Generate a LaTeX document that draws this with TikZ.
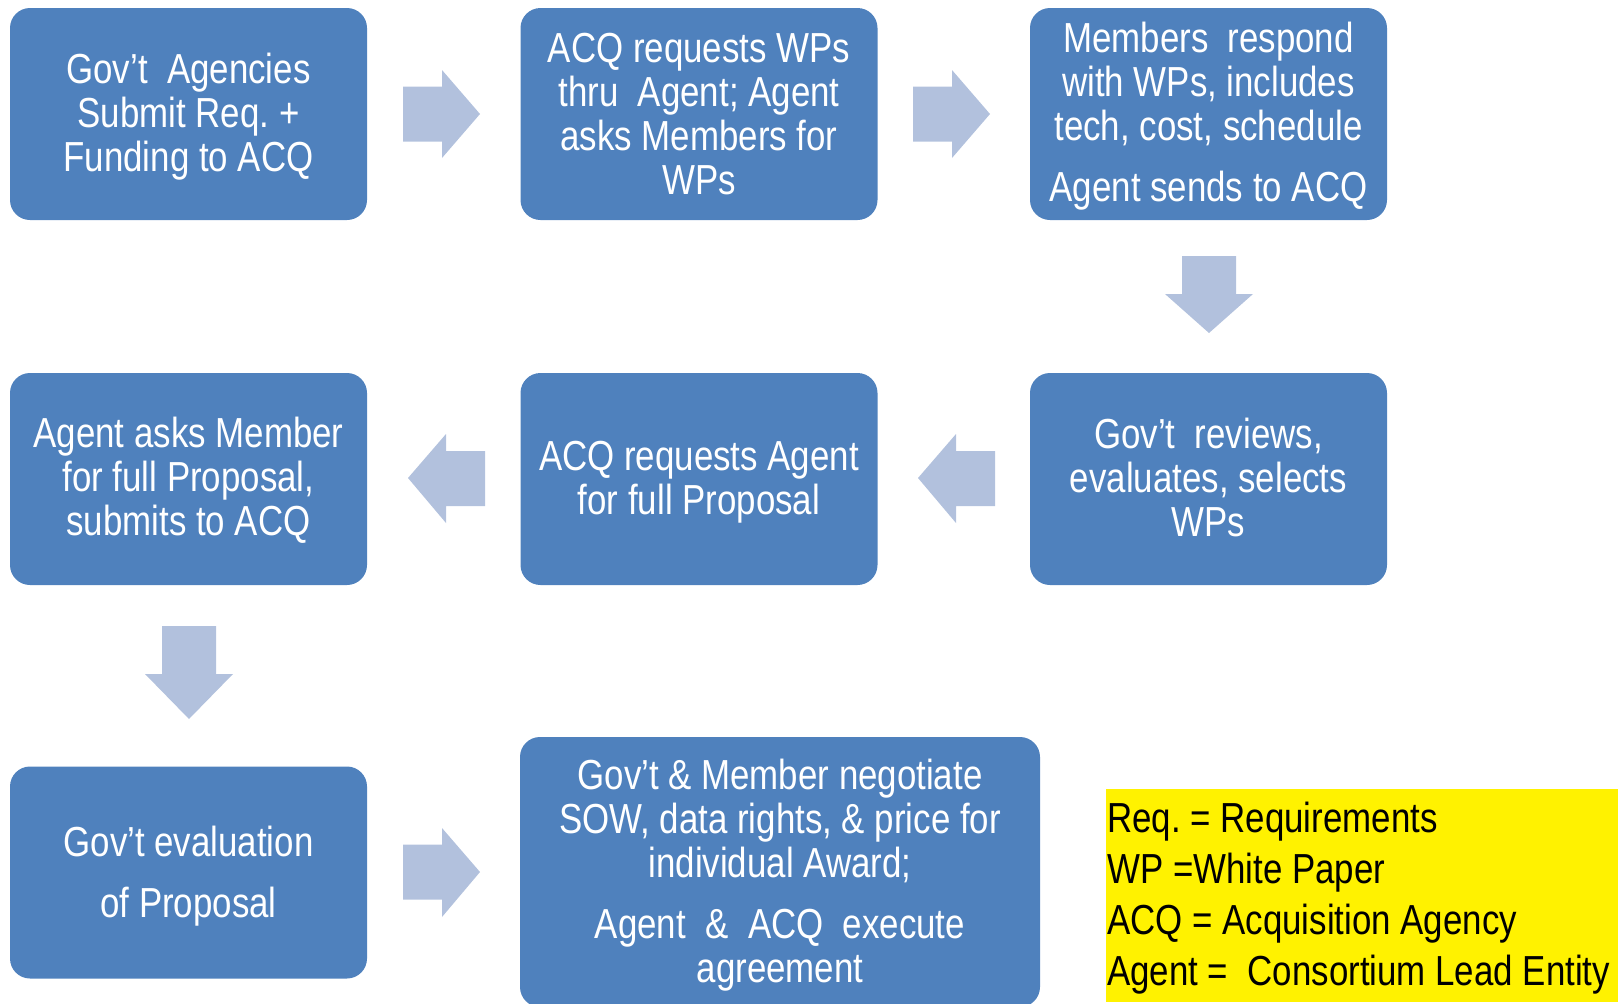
\documentclass[tikz,border=0pt]{standalone}
\usepackage{fontspec}
\setmainfont[FakeStretch=0.83]{Liberation Sans}
\definecolor{boxblue}{HTML}{4F81BD}
\definecolor{arrowblue}{HTML}{B2C1DD}
\frenchspacing
\begin{document}
\begin{tikzpicture}[x=1pt,y=-1pt,
  stepbox/.style={rectangle, rounded corners=20pt, fill=boxblue, minimum width=357pt,
    minimum height=212pt, inner sep=0pt},
  boxtext/.style={text=white, align=center, inner sep=0pt,
    font=\fontsize{42}{44}\selectfont},
  blockarrow/.style={fill=arrowblue},
  legendbox/.style={rectangle, fill=yellow, anchor=north west, minimum width=512pt,
    minimum height=213pt, inner sep=0pt},
  legendtext/.style={anchor=west, inner sep=0pt, align=left, text=black,
    font=\fontsize{42}{51}\selectfont}]
\useasboundingbox (0,0) rectangle (1623,1004);

% row 1
\node[stepbox] (b1) at (188.5,114) {};
\node[boxtext] (b1t) at ([yshift=-3pt]b1.center) {Gov’t~ Agencies\\Submit Req. +\\Funding to ACQ};
\node[stepbox] (b2) at (699,114) {};
\node[boxtext] (b2t) at (b2.center) {ACQ requests WPs\\thru~ Agent; Agent\\asks Members for\\WPs};
\node[stepbox] (b3) at (1208.5,114) {};
\node[boxtext] (b3t) at ([yshift=-2pt]b3.center) {Members~ respond\\with WPs, includes\\tech, cost, schedule\\[17pt]Agent sends to ACQ};
% row 2
\node[stepbox] (b4) at (1208.5,479) {};
\node[boxtext] (b4t) at ([yshift=2pt]b4.center) {Gov’t~ reviews,\\evaluates, selects\\WPs};
\node[stepbox] (b5) at (699,479) {};
\node[boxtext] (b5t) at ([yshift=-3pt]b5.center) {ACQ requests Agent\\for full Proposal};
\node[stepbox] (b6) at (188.5,479) {};
\node[boxtext] (b6t) at ([yshift=-1pt]b6.center) {Agent asks Member\\for full Proposal,\\submits to ACQ};
% row 3
\node[stepbox] (b7) at (188.5,872.5) {};
\node[boxtext] (b7t) at ([yshift=-4pt]b7.center) {Gov’t evaluation\\[17pt]of Proposal};
\node[stepbox, minimum width=520pt, minimum height=270pt] (b8) at (780,872) {};
\node[boxtext] (b8t) at ([yshift=-3pt]b8.center) {Gov’t \& Member negotiate\\SOW, data rights, \& price for\\individual Award;\\[17pt]Agent~ \&~ ACQ~ execute\\agreement};

% legend
\node[legendbox] (legend) at (1106,789) {};
\node[legendtext] (legendt) at ([xshift=1pt,yshift=-2pt]legend.west) {Req. = Requirements\\WP =White Paper\\ACQ = Acquisition Agency\\Agent =~ Consortium Lead Entity};

% block arrows
\fill[blockarrow] (403,86.5) -- (442,86.5) -- (442,70) -- (480,114) -- (442,158) -- (442,141.5) -- (403,141.5) -- cycle;
\fill[blockarrow] (913,86.5) -- (952,86.5) -- (952,70) -- (990,114) -- (952,158) -- (952,141.5) -- (913,141.5) -- cycle;
\fill[blockarrow] (1182,256) -- (1236,256) -- (1236,294) -- (1253,294) -- (1209,333) -- (1165,294) -- (1182,294) -- cycle;
\fill[blockarrow] (995,451) -- (956,451) -- (956,434) -- (918,478) -- (956,523) -- (956,506) -- (995,506) -- cycle;
\fill[blockarrow] (485,451) -- (446,451) -- (446,434) -- (408,478) -- (446,523) -- (446,506) -- (485,506) -- cycle;
\fill[blockarrow] (162,626) -- (216,626) -- (216,674) -- (233,674) -- (189,719) -- (145,674) -- (162,674) -- cycle;
\fill[blockarrow] (403,844.5) -- (442,844.5) -- (442,828) -- (480,872) -- (442,917) -- (442,899.5) -- (403,899.5) -- cycle;
\end{tikzpicture}
\end{document}
